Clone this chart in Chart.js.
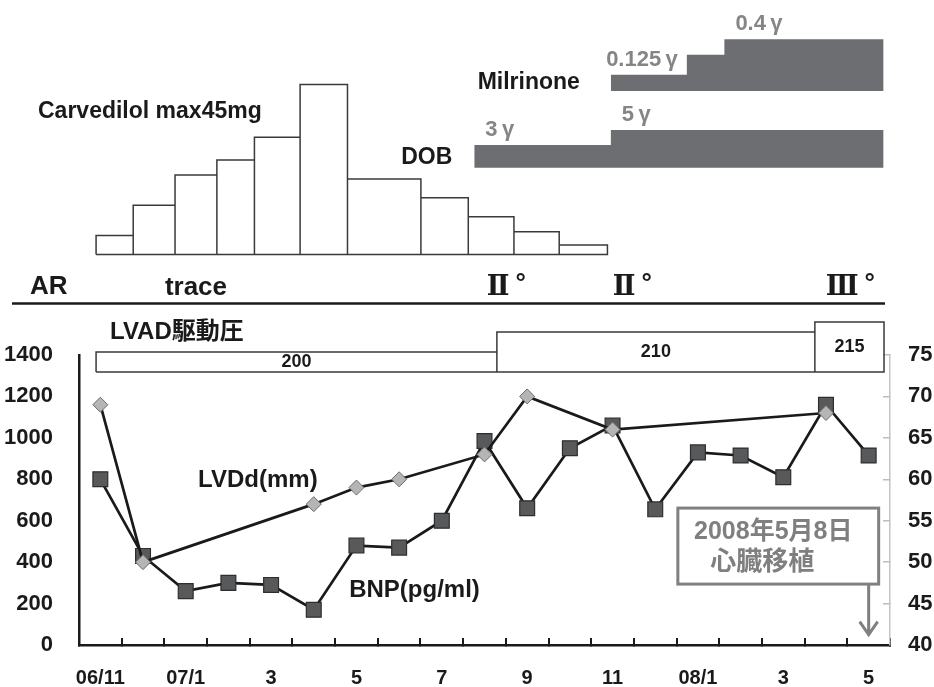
<!DOCTYPE html>
<html><head><meta charset="utf-8">
<script src="https://cdn.jsdelivr.net/npm/chart.js@4.4.1/dist/chart.umd.min.js"></script>
<style>
html,body{margin:0;padding:0;background:#fff;}
#wrap{position:relative;width:934px;height:687px;overflow:hidden;}
canvas{position:absolute;left:0;top:0;}
</style></head><body>
<div id="wrap">
<canvas id="main" width="934" height="687"></canvas>
<canvas id="top" width="934" height="380"></canvas>
</div>
<script>
// ---------------- data ----------------
const months = ['06/11','06/12','07/1','07/2','07/3','07/4','07/5','07/6','07/7','07/8','07/9','07/10','07/11','07/12','08/1','08/2','08/3','08/4','08/5'];
const monthTickLabels = ['06/11','','07/1','','3','','5','','7','','9','','11','','08/1','','3','','5'];
const bnp  = [800, 430, 260, 300, 290, 170, 480, 470, 600, 985, 660, 950, 1060, 655, 930, 915, 810, 1160, 915];
const lvdd = [69, 50, null, null, null, 57, 59, 60, null, 63, 70, null, 66, null, null, null, null, 68, null];

// carvedilol dose periods (month index edges) and dose in mg
const carvedilolEdges = [-0.1, 0.77, 1.75, 2.73, 3.61, 4.68, 5.79, 7.51, 8.62, 9.69, 10.75, 11.88];
const carvedilolDose  = [5, 13, 21, 25, 31, 45, 20, 15, 10, 6, 2.5];

// DOB steps (month index) and dose in gamma
const dobSteps  = [8.76, 11.96, 18.35];
const dobDose   = [3, 5, 5];
const dobLabels = ['3\u2009γ', '5\u2009γ'];

// Milrinone steps and dose in gamma
const milSteps  = [11.96, 13.74, 14.62, 18.35];
const milDose   = [0.125, 0.28, 0.4, 0.4];
const milLabels = ['0.125\u2009γ', '', '0.4\u2009γ'];

// LVAD drive pressure periods
const lvadEdges    = [-0.1, 9.29, 16.74, 18.36];
const lvadPressure = [200, 210, 215];

// AR grade
const arPos   = [2.24, 9.53, 12.48, 17.59];
const arGrade = ['trace', 'Ⅱ', 'Ⅱ', 'Ⅲ'];

// heart transplant
const transplantIndex = 18;
const transplantText = ['2008年5月8日', '心臓移植'];

// ---------------- styles ----------------
const FONT = '"Liberation Sans", Arial, "Noto Sans CJK JP", sans-serif';
const SERIF = '"Liberation Serif", "DejaVu Serif", serif';
const INK = '#1a1a1a';
const GREY_BAR = '#6d6e71';
const GREY_TXT = '#858585';

// ---------------- main chart ----------------
const mainNotes = {
  id: 'mainNotes',
  afterDatasetsDraw(chart) {
    const {ctx, scales: {x, y}} = chart;
    ctx.save();
    ctx.font = `bold 24px ${FONT}`;
    ctx.fillStyle = INK;
    ctx.textAlign = 'left';
    ctx.textBaseline = 'middle';
    ctx.fillText('LVDd(mm)', x.getPixelForValue(2.29), y.getPixelForValue(797));
    ctx.fillText('BNP(pg/ml)', x.getPixelForValue(5.83), y.getPixelForValue(265));

    // transplant box + arrow
    const ax = x.getPixelForValue(transplantIndex);
    const bl = x.getPixelForValue(13.53), br = ax + 10;
    const bt = y.getPixelForValue(661), bb = y.getPixelForValue(294);
    ctx.strokeStyle = '#808080';
    ctx.lineWidth = 3;
    ctx.strokeRect(bl, bt, br - bl, bb - bt);
    const tip = y.getPixelForValue(50);
    ctx.beginPath();
    ctx.moveTo(ax, bb); ctx.lineTo(ax, tip);
    ctx.moveTo(ax - 9, tip - 13); ctx.lineTo(ax, tip); ctx.lineTo(ax + 9, tip - 13);
    ctx.stroke();
    ctx.fillStyle = '#7f7f7f';
    ctx.textAlign = 'center';
    ctx.font = `bold 25px ${FONT}`;
    const cx = (bl + br) / 2;
    ctx.fillText(transplantText[0], cx - 5, bt + (bb - bt) * 0.31);
    ctx.font = `bold 26px ${FONT}`;
    ctx.fillText(transplantText[1], cx - 16, bt + (bb - bt) * 0.72);
    ctx.restore();
  }
};

new Chart(document.getElementById('main'), {
  type: 'line',
  data: {
    labels: months,
    datasets: [
      { label: 'LVDd', data: lvdd, yAxisID: 'y2', spanGaps: true, tension: 0,
        borderColor: INK, borderWidth: 2.7,
        pointStyle: 'rectRot', pointRadius: 7.5, pointBackgroundColor: '#b5b5b5',
        pointBorderColor: '#6a6a6a', pointBorderWidth: 1 },
      { label: 'BNP', data: bnp, yAxisID: 'y', tension: 0,
        borderColor: INK, borderWidth: 2.7,
        pointStyle: 'rect', pointRadius: 10.5, pointBackgroundColor: '#58595b',
        pointBorderColor: '#2e2e2e', pointBorderWidth: 1.2 }
    ]
  },
  options: {
    responsive: false, animation: false, events: [],
    layout: { padding: { top: 355, left: 0, right: 0, bottom: 0 } },
    plugins: { legend: { display: false }, tooltip: { enabled: false } },
    scales: {
      x: {
        offset: true,
        grid: { offset: true, drawOnChartArea: false, drawTicks: true, tickLength: -7, color: INK, lineWidth: 2 },
        border: { color: INK, width: 2.5 },
        ticks: { autoSkip: false, maxRotation: 0, minRotation: 0, padding: 28,
                 font: { family: FONT, size: 20, weight: 'bold' }, color: INK,
                 callback: (v, i) => monthTickLabels[i] },
        afterFit(s) { s.height = 42; }
      },
      y: {
        position: 'left', min: 0, max: 1400,
        ticks: { stepSize: 200, padding: 18, font: { family: FONT, size: 22, weight: 'bold' }, color: INK,
                 callback: v => String(v) },
        grid: { display: false },
        border: { display: true, color: INK, width: 2.5 },
        afterFit(s) { s.width = 79; }
      },
      y2: {
        position: 'right', min: 40, max: 75,
        ticks: { stepSize: 5, padding: 25, font: { family: FONT, size: 22, weight: 'bold' }, color: INK,
                 callback: v => String(v) },
        grid: { drawOnChartArea: false, drawTicks: true, tickLength: -7, color: '#bdbdbd', lineWidth: 1.5 },
        border: { display: true, color: '#c4c4c4', width: 1.5 },
        afterFit(s) { s.width = 44; }
      }
    }
  },
  plugins: [mainNotes]
});

// ---------------- top chart (drugs, AR, LVAD) ----------------
const TOP_H = 380;
function span(basePx, baseVal, pxPerUnit) {
  return { min: baseVal - (TOP_H - basePx) / pxPerUnit, max: baseVal + basePx / pxPerUnit };
}
function boxPath(edges, values, base) {
  const pts = [];
  values.forEach((v, i) => {
    pts.push({x: edges[i], y: base}, {x: edges[i], y: v}, {x: edges[i + 1], y: v}, {x: edges[i + 1], y: base});
  });
  pts.push({x: edges[0], y: base});
  return pts;
}
const LVAD_BASE = 190;

const topText = {
  id: 'topText',
  afterDatasetsDraw(chart) {
    const {ctx, scales: {x, yDob, yMil, yLvad}} = chart;
    const txt = (s, px, py, align, size, color, baseline, family) => {
      ctx.font = `bold ${size}px ${family || FONT}`;
      ctx.fillStyle = color || INK;
      ctx.textAlign = align;
      ctx.textBaseline = baseline || 'middle';
      ctx.fillText(s, px, py);
      return ctx.measureText(s).width;
    };
    ctx.save();
    txt('Carvedilol max45mg', 38, 112, 'left', 23);

    // DOB / Milrinone names
    txt('DOB', x.getPixelForValue(dobSteps[0]) - 22,
        (yDob.getPixelForValue(0) + yDob.getPixelForValue(dobDose[0])) / 2 + 1, 'right', 23);
    txt('Milrinone', x.getPixelForValue(milSteps[0]) - 31,
        (yMil.getPixelForValue(0) + yMil.getPixelForValue(milDose[0])) / 2, 'right', 23);

    // dose labels
    dobLabels.forEach((l, i) => {
      if (!l) return;
      txt(l, x.getPixelForValue(dobSteps[i]) + 11, yDob.getPixelForValue(dobDose[i]) - 9, 'left', 22, GREY_TXT, 'alphabetic');
    });
    milLabels.forEach((l, i) => {
      if (!l) return;
      const yy = yMil.getPixelForValue(milDose[i]) - 9;
      if (i === 0) txt(l, x.getPixelForValue(milSteps[1]) - 9, yy, 'right', 22, GREY_TXT, 'alphabetic');
      else txt(l, x.getPixelForValue(milSteps[i]) + 11, yy, 'left', 22, GREY_TXT, 'alphabetic');
    });

    // AR row
    txt('AR', 30, 287, 'left', 26);
    txt(arGrade[0], x.getPixelForValue(arPos[0]), 288, 'center', 26);
    for (let i = 1; i < arGrade.length; i++) {
      const cx = x.getPixelForValue(arPos[i]);
      ctx.font = `bold 27px ${SERIF}`;
      const w = ctx.measureText(arGrade[i]).width;
      const left = cx - (w + 18) / 2;
      txt(arGrade[i], left, 288, 'left', 27, INK, 'middle', SERIF);
      txt('°', left + w + 6, 284, 'left', 26, INK, 'middle', FONT);
    }
    ctx.strokeStyle = INK;
    ctx.lineWidth = 2.5;
    ctx.beginPath(); ctx.moveTo(12, 303.5); ctx.lineTo(885, 303.5); ctx.stroke();

    // LVAD
    txt('LVAD駆動圧', 110, 332, 'left', 24);
    lvadPressure.forEach((p, i) => {
      const cx = (x.getPixelForValue(lvadEdges[i]) + x.getPixelForValue(lvadEdges[i + 1])) / 2;
      const cy = (yLvad.getPixelForValue(LVAD_BASE) + yLvad.getPixelForValue(p)) / 2;
      txt(String(p), cx, cy, 'center', 18);
    });
    ctx.restore();
  }
};

new Chart(document.getElementById('top'), {
  type: 'line',
  data: {
    datasets: [
      { data: boxPath(carvedilolEdges, carvedilolDose, 0), yAxisID: 'yCarv',
        borderColor: '#3a3a3a', borderWidth: 1.5, pointRadius: 0, fill: false, tension: 0 },
      { data: dobSteps.map((s, i) => ({x: s, y: dobDose[i]})), yAxisID: 'yDob',
        stepped: true, borderWidth: 0, borderColor: 'rgba(0,0,0,0)', pointRadius: 0,
        fill: { value: 0 }, backgroundColor: GREY_BAR },
      { data: milSteps.map((s, i) => ({x: s, y: milDose[i]})), yAxisID: 'yMil',
        stepped: true, borderWidth: 0, borderColor: 'rgba(0,0,0,0)', pointRadius: 0,
        fill: { value: 0 }, backgroundColor: GREY_BAR },
      { data: boxPath(lvadEdges, lvadPressure, LVAD_BASE), yAxisID: 'yLvad',
        borderColor: '#3a3a3a', borderWidth: 1.5, pointRadius: 0, fill: false, tension: 0 }
    ]
  },
  options: {
    responsive: false, animation: false, events: [],
    layout: { padding: { top: 0, bottom: 0, left: 79, right: 44 } },
    plugins: { legend: { display: false }, tooltip: { enabled: false } },
    scales: {
      x: { type: 'linear', min: -0.5, max: 18.5, display: false, bounds: 'data' },
      yCarv: Object.assign({ type: 'linear', display: false, bounds: 'data' }, span(254.5, 0, 3.78)),
      yDob:  Object.assign({ type: 'linear', display: false, bounds: 'data' }, span(167.7, 0, 7.55)),
      yMil:  Object.assign({ type: 'linear', display: false, bounds: 'data' }, span(91, 0, 129.2)),
      yLvad: Object.assign({ type: 'linear', display: false, bounds: 'data' }, span(372, LVAD_BASE, 2))
    }
  },
  plugins: [topText]
});
</script>
</body></html>
